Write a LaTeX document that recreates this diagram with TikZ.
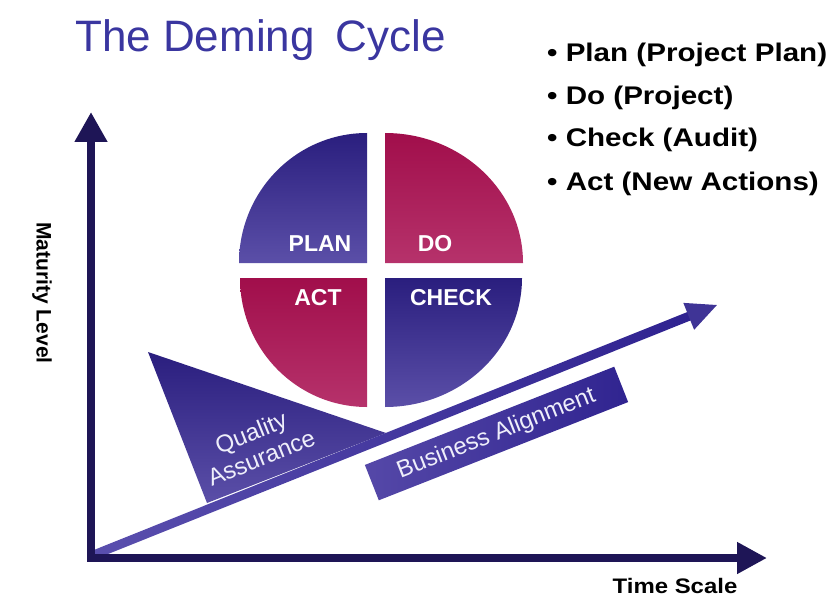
\documentclass[tikz,border=0pt]{standalone}
\usepackage{fontspec}
\setmainfont{Liberation Sans}
\usetikzlibrary{arrows.meta}
\definecolor{axiscol}{HTML}{1E1556}
\definecolor{titlecol}{HTML}{3A36A0}
\definecolor{navytop}{HTML}{2A1E7E}
\definecolor{navybot}{HTML}{5B4FA8}
\definecolor{redtop}{HTML}{A10E4B}
\definecolor{redbot}{HTML}{B6326B}
\definecolor{diagA}{HTML}{5A4FAE}
\definecolor{diagB}{HTML}{2F2290}
\definecolor{diaghead}{HTML}{3F3496}
\definecolor{lav}{HTML}{EEEEFA}
\definecolor{baL}{HTML}{5548A8}
\definecolor{baR}{HTML}{302490}
\newcommand{\wideb}[1]{\scalebox{1.16}[1]{#1}}
\tikzset{
  quadlabel/.style={text=white, font=\bfseries\fontsize{23}{26}\selectfont, inner sep=0pt},
  axislabel/.style={font=\bfseries\fontsize{21}{24}\selectfont, inner sep=0pt},
  listitem/.style={anchor=base west, font=\bfseries\fontsize{25.5}{28}\selectfont, inner sep=0pt},
  bandtext/.style={text=lav, font=\fontsize{24}{27.5}\selectfont, align=center, inner sep=0pt},
  navyquad/.style={top color=navytop, bottom color=navybot},
  redquad/.style={top color=redtop, bottom color=redbot}
}
\begin{document}
\begin{tikzpicture}[x=1pt,y=1pt]
\useasboundingbox (0,0) rectangle (829,-596);
% title
\node[anchor=base west, text=titlecol, font=\fontsize{44}{48}\selectfont, inner sep=0pt] (title) at (75,-52) {The Deming\hspace{0.2em} Cycle};
% list
\node[listitem] (li1) at (547,-61.5) {\wideb{\textbullet\ Plan (Project Plan)}};
\node[listitem] (li2) at (547,-104.5) {\wideb{\textbullet\ Do (Project)}};
\node[listitem] (li3) at (547,-147) {\wideb{\textbullet\ Check (Audit)}};
\node[listitem] (li4) at (547,-190) {\wideb{\textbullet\ Act (New Actions)}};
% quality assurance triangle
\shade[top color=navytop, bottom color=navybot] (148,-352) -- (386,-433) -- (207,-503) -- cycle;
\node[bandtext, rotate=22] (qa) at (256,-445) {Quality\\Assurance};
% business alignment band
\begin{scope}[shift={(496.5,-433.5)}, rotate=21.5]
  \shade[left color=baL, right color=baR] (-134,-19) rectangle (134,19);
\end{scope}
\node[bandtext, rotate=21.5] (ba) at (496.5,-434) {Business Alignment};
% diagonal arrow
\coordinate (O) at (91,-556);
\coordinate (T) at (717,-305);
\begin{scope}[shift={(O)}, rotate=21.85]
  \shade[left color=diagA, right color=diagB] (0,-4.5) rectangle (646,4.5);
  \fill[diaghead] (644,-14.5) -- (674.4,0) -- (644,14.5) -- cycle;
\end{scope}
% axes
\coordinate (ytop) at (91,-112);
\coordinate (corner) at (91,-558);
\coordinate (xend) at (767,-558);
\draw[axiscol, line width=8pt, line join=miter, {Triangle[length=30pt,width=31pt]}-{Triangle[length=30pt,width=30pt]}] (ytop) -- (corner) -- (xend);
\node[axislabel, rotate=-90] (ylab) at (42,-293) {Maturity Level};
\node[axislabel, anchor=base] (xlab) at (675,-593) {\scalebox{1.14}[1]{Time Scale}};
% pie quadrants
\shade[navyquad] (367,-263) -- (239,-263) arc[start angle=180, end angle=90, x radius=128, y radius=130] -- cycle;
\shade[redquad] (385,-263) -- (385,-133) arc[start angle=90, end angle=0, x radius=138, y radius=130] -- cycle;
\shade[redquad] (367,-278) -- (367,-407) arc[start angle=270, end angle=180, x radius=127, y radius=129] -- cycle;
\shade[navyquad] (385,-278) -- (522,-278) arc[start angle=0, end angle=-90, x radius=137, y radius=129] -- cycle;
\node[quadlabel] (plan) at (320,-244) {PLAN};
\node[quadlabel] (do) at (435,-244) {DO};
\node[quadlabel] (act) at (318,-298) {ACT};
\node[quadlabel] (check) at (451,-298) {CHECK};
\end{tikzpicture}
\end{document}
